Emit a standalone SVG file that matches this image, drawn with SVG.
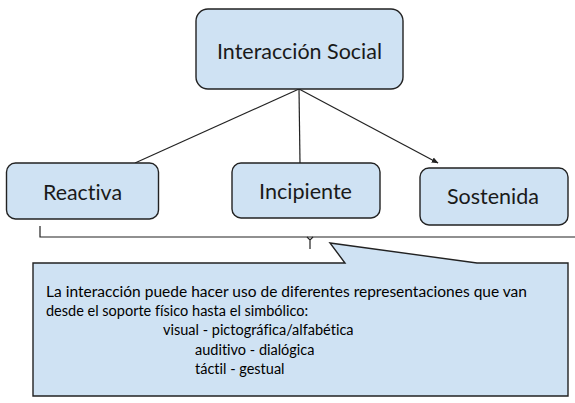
<svg xmlns="http://www.w3.org/2000/svg" width="575" height="403" viewBox="0 0 575 403">
<defs>
<style>
.box{fill:#cfe2f3;stroke:#222;stroke-width:1.4}
.lbl{font-family:Lato,"Open Sans","Liberation Sans",sans-serif;font-size:21px;fill:#1a1a1a;text-anchor:middle;font-variant-ligatures:none}
.txt{font-family:Lato,"Open Sans","Liberation Sans",sans-serif;font-size:14.5px;fill:#000;font-variant-ligatures:none}
.con{fill:none;stroke:#222;stroke-width:1.2}
</style>
<marker id="arr" viewBox="0 0 10 10" refX="9" refY="5" markerWidth="7" markerHeight="7" orient="auto" markerUnits="userSpaceOnUse">
<path d="M0,1 L10,5 L0,9 Z" fill="#222"/>
</marker>
</defs>
<rect width="575" height="403" fill="#fff"/>
<g id="connectors">
<line class="con" x1="299" y1="89" x2="135" y2="163"/>
<line class="con" x1="299" y1="89" x2="300" y2="163"/>
<line class="con" x1="299" y1="89" x2="438" y2="163" marker-end="url(#arr)"/>
<path class="con" d="M40,226 V237 H575"/>
<path class="con" d="M307,237 L310,240 L313,237 M310,240 V249"/>
</g>
<g id="node-interaccion">
<rect class="box" x="196" y="9" width="207" height="80" rx="12"/>
<text class="lbl" x="299.5" y="59" textLength="165" lengthAdjust="spacingAndGlyphs">Interacción Social</text>
</g>
<g id="node-reactiva">
<rect class="box" x="6.5" y="163" width="152" height="56" rx="9"/>
<text class="lbl" x="82.5" y="200" textLength="79" lengthAdjust="spacingAndGlyphs">Reactiva</text>
</g>
<g id="node-incipiente">
<rect class="box" x="232" y="163" width="148" height="55" rx="9"/>
<text class="lbl" x="305.5" y="199" textLength="93" lengthAdjust="spacingAndGlyphs">Incipiente</text>
</g>
<g id="node-sostenida">
<rect class="box" x="420" y="168" width="148" height="57" rx="9"/>
<text class="lbl" x="493" y="204" textLength="92" lengthAdjust="spacingAndGlyphs">Sostenida</text>
</g>
<g id="callout">
<path class="box" d="M33,263 H345 L330,243 L477,263 H568 V396 H33 Z"/>
<text class="txt" x="46" y="297" textLength="481" lengthAdjust="spacingAndGlyphs">La interacción puede hacer uso de diferentes representaciones que van</text>
<text class="txt" x="46" y="316">desde el soporte físico hasta el simbólico:</text>
<text class="txt" x="163" y="335">visual - pictográfica/alfabética</text>
<text class="txt" x="195" y="355">auditivo - dialógica</text>
<text class="txt" x="195" y="374">táctil - gestual</text>
</g>
</svg>
